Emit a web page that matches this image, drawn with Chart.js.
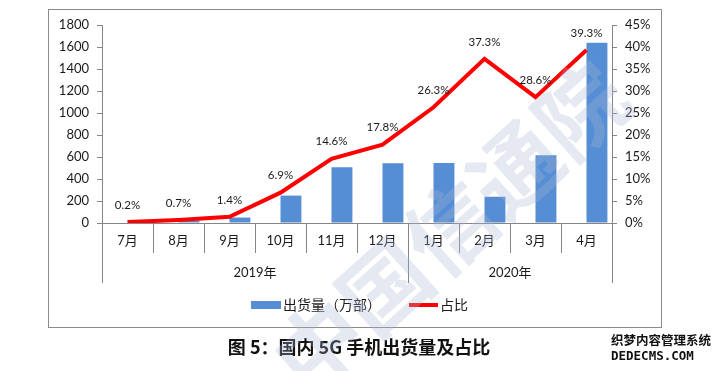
<!DOCTYPE html>
<html>
<head>
<meta charset="utf-8">
<script src="https://cdn.jsdelivr.net/npm/chart.js@4"></script>
<style>
  html, body { margin: 0; padding: 0; background: #fff; }
  #wrap { width: 715px; height: 371px; }
</style>
</head>
<body>
<div id="wrap"><canvas id="shipChart" width="715" height="371"></canvas></div>
<script>
// data
const months = ['7月', '8月', '9月', '10月', '11月', '12月', '1月', '2月', '3月', '4月'];
const years = ['2019年', '2020年'];
const yearSpans = [6, 4];
const shipments = [3.3, 21.3, 49.7, 249.1, 507.4, 543.1, 546.5, 238.6, 616.1, 1638.2];
const shares = [0.2, 0.7, 1.4, 6.9, 14.6, 17.8, 26.3, 37.3, 28.6, 39.3];

const FONT = 'Lato, "Noto Sans CJK SC", sans-serif';
const CJK = '"Noto Sans CJK SC", sans-serif';
const GREY = '#868686';
const TXT = '#1a1a1a';

Chart.defaults.font.family = FONT;
Chart.defaults.color = TXT;

// labels above the line points
const pointLabels = {
    id: 'pointLabels',
    afterDatasetsDraw(chart) {
        const ctx = chart.ctx;
        const meta = chart.getDatasetMeta(0);
        ctx.save();
        ctx.font = '11.5px ' + FONT;
        ctx.fillStyle = TXT;
        ctx.textAlign = 'center';
        ctx.textBaseline = 'middle';
        meta.data.forEach((pt, i) => {
            ctx.fillText(shares[i].toFixed(1) + '%', pt.x, pt.y - 17);
        });
        ctx.restore();
    }
};

// frame, year groups, legend, caption, watermarks
const extras = {
    id: 'extras',
    afterDraw(chart) {
        const ctx = chart.ctx;
        const x = chart.scales.x;
        const area = chart.chartArea;
        const half = (x.getPixelForValue(1) - x.getPixelForValue(0)) / 2;
        ctx.save();

        ctx.strokeStyle = '#8a8a8a';
        ctx.lineWidth = 1;
        ctx.strokeRect(48.5, 9.5, 613, 318);

        // year group lines + labels
        ctx.strokeStyle = GREY;
        let start = 0;
        const edges = [area.left];
        yearSpans.forEach(n => {
            start += n;
            edges.push(x.getPixelForValue(start - 1) + half);
        });
        edges.forEach(px => {
            const p = Math.round(px) + 0.5;
            ctx.beginPath();
            ctx.moveTo(p, area.bottom);
            ctx.lineTo(p, 283);
            ctx.stroke();
        });
        ctx.font = '13px ' + FONT;
        ctx.fillStyle = TXT;
        ctx.textAlign = 'center';
        ctx.textBaseline = 'middle';
        years.forEach((y, i) => {
            ctx.fillText(y, (edges[i] + edges[i + 1]) / 2, 273);
        });

        // legend
        const bars = chart.data.datasets[2];
        const line = chart.data.datasets[0];
        ctx.fillStyle = bars.backgroundColor;
        ctx.fillRect(251, 301, 30, 8);
        ctx.font = '14px ' + CJK;
        ctx.fillStyle = TXT;
        ctx.textAlign = 'left';
        ctx.fillText(bars.label, 283, 305);
        ctx.strokeStyle = line.borderColor;
        ctx.lineWidth = 4;
        ctx.beginPath();
        ctx.moveTo(409, 305);
        ctx.lineTo(438, 305);
        ctx.stroke();
        ctx.fillText(line.label, 440, 305);

        // caption
        ctx.font = 'bold 18px ' + CJK;
        ctx.textAlign = 'center';
        ctx.fillStyle = '#111';
        ctx.fillText('图 5：国内 5G 手机出货量及占比', 359, 347);

        // site mark
        ctx.font = 'bold 12.5px ' + CJK;
        ctx.textAlign = 'left';
        ctx.fillText('织梦内容管理系统', 611, 340);
        ctx.font = 'bold 12.5px "DejaVu Sans Mono", monospace';
        ctx.fillText('DEDECMS.COM', 611, 357);

        // diagonal watermark
        ctx.translate(450, 228);
        ctx.rotate(-42 * Math.PI / 180);
        ctx.font = 'bold 88px ' + CJK;
        ctx.textAlign = 'center';
        ctx.fillStyle = 'rgba(170, 182, 212, 0.3)';
        ctx.fillText('中国信通院', 0, 0);
        ctx.restore();
    }
};

new Chart(document.getElementById('shipChart'), {
    type: 'bar',
    data: {
        labels: months,
        datasets: [{
            type: 'line',
            label: '占比',
            data: shares,
            yAxisID: 'y1',
            borderColor: '#ff0000',
            borderWidth: 4,
            pointRadius: 0,
            tension: 0,
            order: 0
        }, {
            // empty slot so the bars sit right of centre as in the original
            label: '',
            data: months.map(() => null),
            yAxisID: 'y',
            backgroundColor: 'rgba(0,0,0,0)',
            order: 1
        }, {
            label: '出货量（万部）',
            data: shipments,
            yAxisID: 'y',
            backgroundColor: '#558ed5',
            order: 1
        }]
    },
    options: {
        responsive: false,
        animation: false,
        layout: { padding: { top: 25, left: 48, right: 53, bottom: 44 } },
        datasets: { bar: { categoryPercentage: 0.82, barPercentage: 1 } },
        plugins: { legend: { display: false }, tooltip: { enabled: false } },
        scales: {
            x: {
                offset: true,
                grid: { offset: true, drawOnChartArea: false, tickLength: 30, color: GREY },
                border: { color: GREY },
                ticks: { padding: -20, font: { size: 13 }, color: TXT, maxRotation: 0 },
                afterFit: s => { s.height = 104; }
            },
            y: {
                position: 'left',
                min: 0,
                max: 1800,
                ticks: { stepSize: 200, padding: 8, font: { size: 13 }, color: TXT, callback: v => String(v) },
                grid: { drawOnChartArea: false, tickLength: 5, color: GREY },
                border: { color: GREY },
                afterFit: s => { s.width = 54; }
            },
            y1: {
                position: 'right',
                min: 0,
                max: 45,
                ticks: { stepSize: 5, padding: 8, font: { size: 13 }, color: TXT, callback: v => v + '%' },
                grid: { drawOnChartArea: false, tickLength: 5, color: GREY },
                border: { color: GREY },
                afterFit: s => { s.width = 50; }
            }
        }
    },
    plugins: [pointLabels, extras]
});
</script>
</body>
</html>
